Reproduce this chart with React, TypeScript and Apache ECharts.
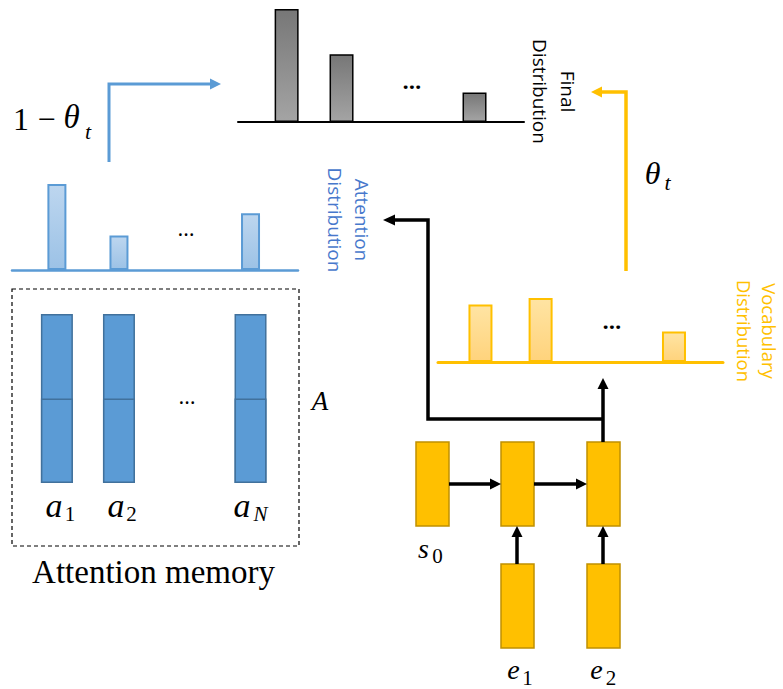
import React, { useEffect, useRef } from "react";
import * as echarts from "echarts";

// ---- data -------------------------------------------------------------
// slot positions of the visible words / memory entries on a 0–10 slot axis
const slotAxisMax = 10;
const memoryLabels = ["1", "2", "N"];
const memorySlots = [1.57, 3.74, 8.34];
const memoryFull = [2, 2, 2]; // each memory vector: two halves
const memoryLower = [1, 1, 1];
const attentionProbs = [0.5, 0.2, 0.33];
const vocabSlots = [1.49, 3.6, 8.28];
const vocabProbs = [0.36, 0.4, 0.19];
const finalSlots = [1.7, 3.62, 8.27];
const finalProbs = [0.5, 0.3, 0.13];

// ---- styles -----------------------------------------------------------
const SERIF = "'Liberation Serif', 'DejaVu Serif', serif";
const SANS = "'Open Sans', 'Noto Sans', sans-serif";
const BLUE = "#5b9bd5";
const BLUE_DARK = "#41719c";
const GOLD = "#ffc000";
const GOLD_DARK = "#c09000";

const grad = (a: string, b: string) => ({
  type: "linear", x: 0, y: 0, x2: 0, y2: 1,
  colorStops: [{ offset: 0, color: a }, { offset: 1, color: b }],
});

const xAx = (gridIndex: number, color: string, width: number, show = true) => ({
  type: "value", gridIndex, min: 0, max: slotAxisMax, show, position: "bottom",
  axisLine: { show: true, onZero: false, lineStyle: { color, width } },
  axisTick: { show: false }, axisLabel: { show: false }, splitLine: { show: false },
});
const yAx = (gridIndex: number, max: number) => ({
  type: "value", gridIndex, min: 0, max, show: false, splitLine: { show: false },
});

const txt = (text: string, x: number, y: number, size: number, opts: any = {}) => ({
  type: "text", x, y, z: 10,
  style: {
    text, fill: opts.fill || "#000",
    fontSize: size, fontFamily: opts.family || SERIF,
    fontStyle: opts.italic ? "italic" : "normal",
    fontWeight: opts.bold ? "bold" : "normal",
    align: opts.align || "center", verticalAlign: "middle",
    lineHeight: opts.lineHeight,
  },
  rotation: opts.rotation || 0,
});
const poly = (pts: number[][], color: string, lw: number) => ({
  type: "polyline", z: 5, shape: { points: pts },
  style: { stroke: color, lineWidth: lw, fill: null, lineJoin: "miter", lineCap: "butt" },
});
const head = (pts: number[][], color: string) => ({
  type: "polygon", z: 6, shape: { points: pts }, style: { fill: color },
});
const cell = (x: number, y: number) => ({
  type: "rect", z: 4, shape: { x, y, width: 33, height: 84 },
  style: { fill: GOLD, stroke: GOLD_DARK, lineWidth: 1.5 },
});

export default function App() {
  const ref = useRef<HTMLDivElement>(null);
  useEffect(() => {
    const chart = echarts.init(ref.current!, null, { renderer: "svg" });
    const memAnchors = [[54, 70], [116, 131.5], [242, 260.5]];
    const option: any = {
      animation: false,
      backgroundColor: "#fff",
      grid: [
        { left: 238, top: 9, width: 286, height: 113 },   // final distribution
        { left: 12, top: 184, width: 286, height: 86 },   // attention distribution
        { left: 438, top: 298, width: 285, height: 64 },  // vocabulary distribution
        { left: 12, top: 314, width: 286, height: 169 },  // attention memory
      ],
      xAxis: [xAx(0, "#000", 2), xAx(1, BLUE, 2.5), xAx(2, GOLD, 3), xAx(3, "#fff", 0, false)],
      yAxis: [yAx(0, 0.5), yAx(1, 0.5), yAx(2, 0.4), yAx(3, 2)],
      series: [
        {
          type: "bar", name: "Final", xAxisIndex: 0, yAxisIndex: 0, barWidth: 24,
          data: finalSlots.map((s, i) => [s, finalProbs[i]]),
          itemStyle: { color: grad("#777777", "#a4a4a4"), borderColor: "#000", borderWidth: 1.5 },
        },
        {
          type: "bar", name: "Attention", xAxisIndex: 1, yAxisIndex: 1, barWidth: 19,
          data: memorySlots.map((s, i) => [s, attentionProbs[i]]),
          itemStyle: { color: grad("#bdd6ef", "#9cc2e6"), borderColor: BLUE, borderWidth: 2 },
        },
        {
          type: "bar", name: "Vocabulary", xAxisIndex: 2, yAxisIndex: 2, barWidth: 24,
          data: vocabSlots.map((s, i) => [s, vocabProbs[i]]),
          itemStyle: { color: grad("#ffe4a3", "#ffd37c"), borderColor: GOLD, borderWidth: 2 },
        },
        {
          type: "bar", name: "MemoryFull", xAxisIndex: 3, yAxisIndex: 3, barWidth: 32, barGap: "-100%",
          data: memorySlots.map((s, i) => [s, memoryFull[i]]),
          itemStyle: { color: BLUE, borderColor: BLUE_DARK, borderWidth: 1.5 },
        },
        {
          type: "bar", name: "MemoryLower", xAxisIndex: 3, yAxisIndex: 3, barWidth: 32, barGap: "-100%",
          data: memorySlots.map((s, i) => [s, memoryLower[i]]),
          itemStyle: { color: BLUE, borderColor: BLUE_DARK, borderWidth: 1.5 },
        },
      ],
      graphic: [
        // memory box
        {
          type: "rect", z: 1, shape: { x: 12, y: 289, width: 287, height: 257 },
          style: { fill: null, stroke: "#000", lineWidth: 1.2, lineDash: [4, 3] },
        },
        // RNN cells
        cell(416, 442), cell(501, 442), cell(587, 442), cell(501, 564), cell(587, 564),
        // RNN arrows
        poly([[449, 484], [492, 484]], "#000", 3.5), head([[501, 484], [490, 478.5], [490, 489.5]], "#000"),
        poly([[534, 484], [578, 484]], "#000", 3.5), head([[587, 484], [576, 478.5], [576, 489.5]], "#000"),
        poly([[517, 564], [517, 535]], "#000", 3.5), head([[517, 526], [511.5, 537], [522.5, 537]], "#000"),
        poly([[603, 564], [603, 535]], "#000", 3.5), head([[603, 526], [597.5, 537], [608.5, 537]], "#000"),
        poly([[603, 442], [603, 387]], "#000", 3.5), head([[603, 378], [597.5, 389], [608.5, 389]], "#000"),
        poly([[603, 419], [428, 419], [428, 220], [393, 220]], "#000", 3.5),
        head([[383, 220], [395, 214.5], [395, 225.5]], "#000"),
        // gate arrows
        poly([[109, 162], [109, 84], [212, 84]], BLUE, 3), head([[221, 84], [210, 78.5], [210, 89.5]], BLUE),
        poly([[626, 271], [626, 92], [600, 92]], GOLD, 3.5), head([[591, 92], [602, 86.5], [602, 97.5]], GOLD),
        // ellipses
        txt("…", 412, 80, 22, { family: SANS, bold: true }),
        txt("…", 186, 227, 22, { family: SANS }),
        txt("…", 612, 320, 22, { family: SANS, bold: true }),
        txt("…", 187, 395, 22, { family: SANS }),
        // rotated distribution titles
        txt("Final\nDistribution", 554, 91.5, 19, { family: SANS, rotation: -Math.PI / 2, lineHeight: 28 }),
        txt("Attention\nDistribution", 348.5, 220, 19, { family: SANS, rotation: -Math.PI / 2, lineHeight: 27, fill: "#4778cc" }),
        txt("Vocabulary\nDistribution", 757, 331, 18.5, { family: SANS, rotation: -Math.PI / 2, lineHeight: 25, fill: GOLD }),
        // gate labels
        txt("1", 21, 118.5, 32),
        txt("−", 46.5, 118.5, 32),
        txt("θ", 71.5, 117, 33, { italic: true }),
        txt("t", 88, 131, 22, { italic: true }),
        txt("θ", 652.5, 172.5, 32, { italic: true }),
        txt("t", 667.5, 182, 22, { italic: true }),
        // memory labels
        txt("A", 320, 401, 27, { italic: true }),
        ...memoryLabels.flatMap((lab, i) => [
          txt("a", memAnchors[i][0], 505, 34, { italic: true }),
          txt(lab, memAnchors[i][1], 514, 21, { italic: lab === "N" }),
        ]),
        txt("Attention memory", 153.5, 572, 33),
        // RNN labels
        txt("s", 423.5, 548.5, 28, { italic: true }), txt("0", 437.5, 555.5, 21),
        txt("e", 513.5, 669, 28, { italic: true }), txt("1", 527.5, 677.5, 21),
        txt("e", 596.5, 669, 28, { italic: true }), txt("2", 611, 677.5, 21),
      ],
    };
    chart.setOption(option);
    return () => chart.dispose();
  }, []);
  return (
    <div
      ref={ref}
      style={{ position: "fixed", left: 0, top: 0, width: 783, height: 689, background: "#fff" }}
    />
  );
}
